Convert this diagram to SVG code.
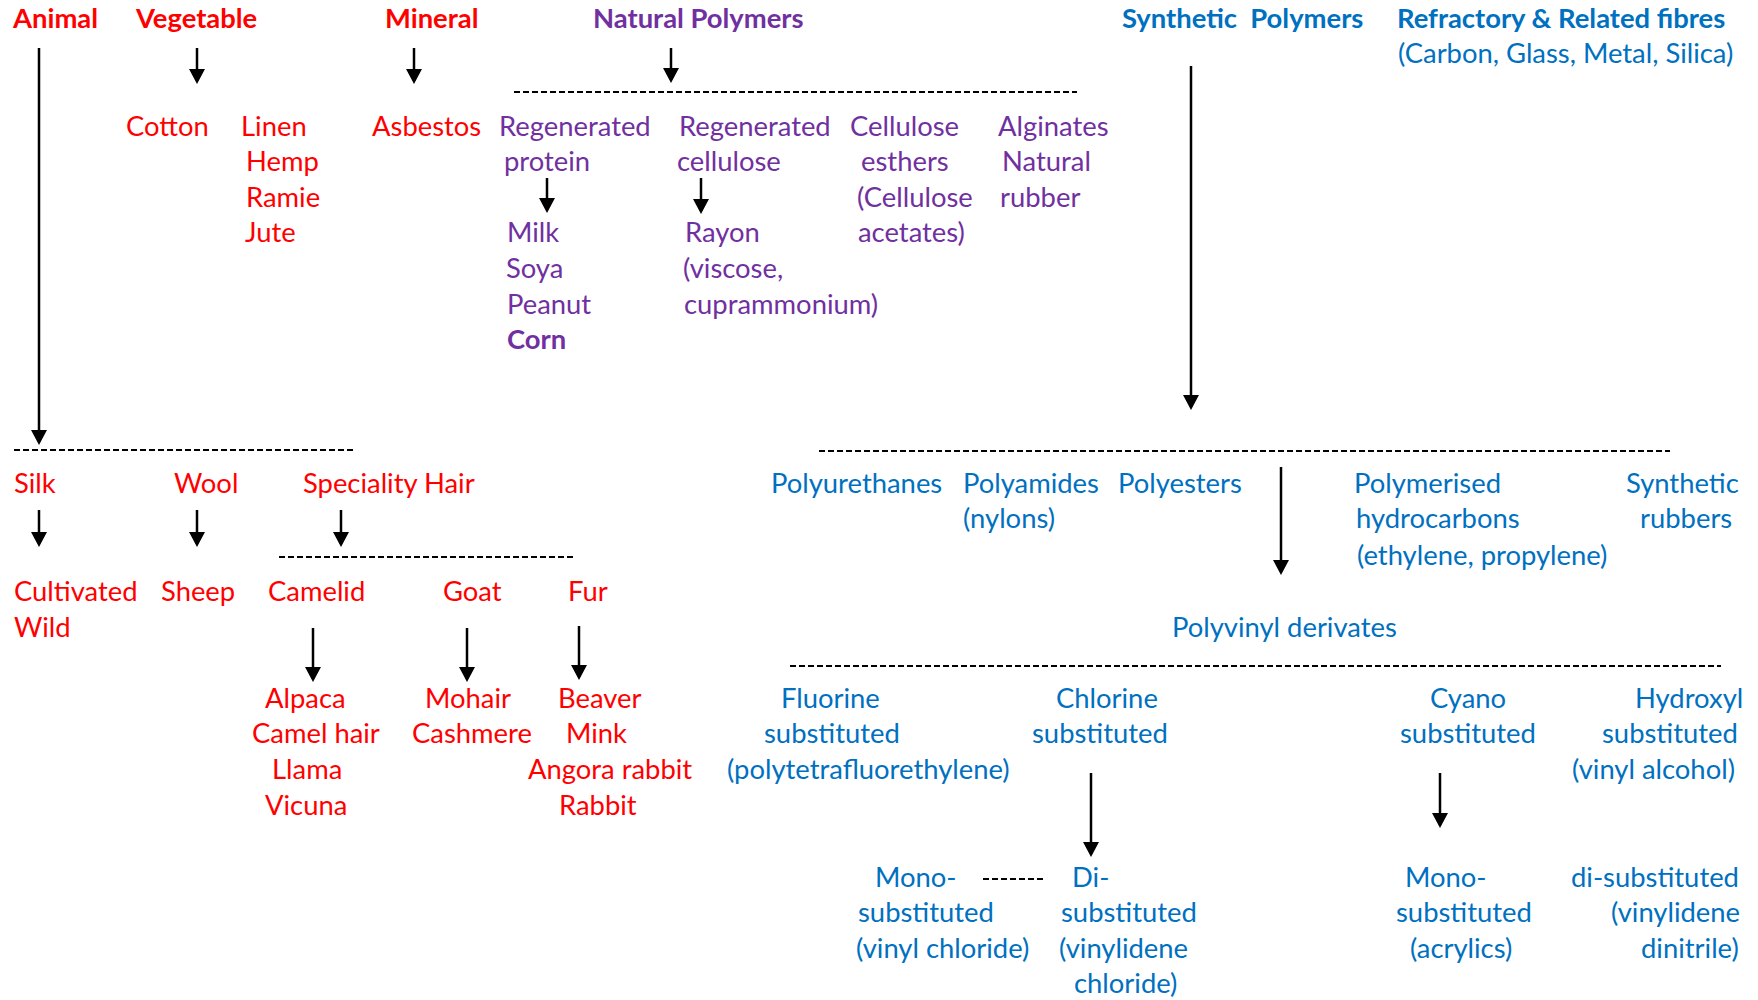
<svg xmlns="http://www.w3.org/2000/svg" width="1758" height="1000" viewBox="0 0 1758 1000">
<defs>
<style>
text{font-family:Lato,"Open Sans","Liberation Sans",sans-serif;font-size:27.4px}
.b{font-weight:bold}
.r{fill:#FF0000}
.p{fill:#7030A0}
.u{fill:#0070C0}
.ar{stroke:#000;stroke-width:2.5;fill:none;marker-end:url(#ah)}
.ds{stroke:#000;stroke-width:2;stroke-dasharray:6 3;fill:none}
</style>
<marker id="ah" markerUnits="userSpaceOnUse" markerWidth="16" markerHeight="16" refX="12" refY="8" orient="auto">
<path d="M0,0 L15,8 L0,16 z" fill="#000"/>
</marker>
</defs>
<rect width="1758" height="1000" fill="#fff"/>

<g id="animal"><text class="b r" x="13" y="28">Animal</text></g>
<g id="vegetable"><text class="b r" x="136" y="28">Vegetable</text></g>
<g id="mineral"><text class="b r" x="385" y="28">Mineral</text></g>
<g id="natural-polymers"><text class="b p" x="593" y="28">Natural Polymers</text></g>
<g id="synthetic-polymers"><text class="b u" x="1122" y="28" xml:space="preserve">Synthetic  Polymers</text></g>
<g id="refractory"><text class="b u" x="1397" y="28">Refractory &amp; Related fibres</text><text class="u" x="1398" y="63">(Carbon, Glass, Metal, Silica)</text></g>

<g id="cotton"><text class="r" x="126" y="136">Cotton</text></g>
<g id="linen"><text class="r" x="241" y="136">Linen</text><text class="r" x="246" y="171">Hemp</text><text class="r" x="246" y="207">Ramie</text><text class="r" x="245" y="242">Jute</text></g>
<g id="asbestos"><text class="r" x="372" y="136">Asbestos</text></g>

<g id="regenerated-protein"><text class="p" x="499" y="136">Regenerated</text><text class="p" x="504" y="171">protein</text></g>
<g id="protein-sources"><text class="p" x="507" y="242">Milk</text><text class="p" x="506" y="278">Soya</text><text class="p" x="507" y="314">Peanut</text><text class="p b" x="507" y="349">Corn</text></g>
<g id="regenerated-cellulose"><text class="p" x="679" y="136">Regenerated</text><text class="p" x="677" y="171">cellulose</text></g>
<g id="rayon"><text class="p" x="685" y="242">Rayon</text><text class="p" x="683" y="278">(viscose,</text><text class="p" x="684" y="314">cuprammonium)</text></g>
<g id="cellulose-esthers"><text class="p" x="850" y="136">Cellulose</text><text class="p" x="861" y="171">esthers</text><text class="p" x="857" y="207">(Cellulose</text><text class="p" x="858" y="242">acetates)</text></g>
<g id="alginates"><text class="p" x="998" y="136">Alginates</text><text class="p" x="1002" y="171">Natural</text><text class="p" x="1000" y="207">rubber</text></g>

<g id="silk"><text class="r" x="14" y="493">Silk</text></g>
<g id="wool"><text class="r" x="174" y="493">Wool</text></g>
<g id="speciality-hair"><text class="r" x="303" y="493">Speciality Hair</text></g>
<g id="silk-types"><text class="r" x="14" y="601">Cultivated</text><text class="r" x="14" y="637">Wild</text></g>
<g id="sheep"><text class="r" x="161" y="601">Sheep</text></g>
<g id="camelid"><text class="r" x="268" y="601">Camelid</text></g>
<g id="goat"><text class="r" x="443" y="601">Goat</text></g>
<g id="fur"><text class="r" x="568" y="601">Fur</text></g>
<g id="camelid-types"><text class="r" x="265" y="708">Alpaca</text><text class="r" x="252" y="743">Camel hair</text><text class="r" x="272" y="779">Llama</text><text class="r" x="265" y="815">Vicuna</text></g>
<g id="goat-types"><text class="r" x="425" y="708">Mohair</text><text class="r" x="412" y="743">Cashmere</text></g>
<g id="fur-types"><text class="r" x="558" y="708">Beaver</text><text class="r" x="566" y="743">Mink</text><text class="r" x="528" y="779">Angora rabbit</text><text class="r" x="559" y="815">Rabbit</text></g>

<g id="polyurethanes"><text class="u" x="771" y="493">Polyurethanes</text></g>
<g id="polyamides"><text class="u" x="963" y="493">Polyamides</text><text class="u" x="963" y="528">(nylons)</text></g>
<g id="polyesters"><text class="u" x="1118" y="493">Polyesters</text></g>
<g id="polymerised-hydrocarbons"><text class="u" x="1354" y="493">Polymerised</text><text class="u" x="1356" y="528">hydrocarbons</text><text class="u" x="1357" y="565">(ethylene, propylene)</text></g>
<g id="synthetic-rubbers"><text class="u" x="1626" y="493">Synthetic</text><text class="u" x="1640" y="528">rubbers</text></g>
<g id="polyvinyl"><text class="u" x="1172" y="637">Polyvinyl derivates</text></g>
<g id="fluorine"><text class="u" x="781" y="708">Fluorine</text><text class="u" x="764" y="743">substituted</text><text class="u" x="727" y="779">(polytetrafluorethylene)</text></g>
<g id="chlorine"><text class="u" x="1056" y="708">Chlorine</text><text class="u" x="1032" y="743">substituted</text></g>
<g id="cyano"><text class="u" x="1430" y="708">Cyano</text><text class="u" x="1400" y="743">substituted</text></g>
<g id="hydroxyl"><text class="u" x="1635" y="708">Hydroxyl</text><text class="u" x="1602" y="743">substituted</text><text class="u" x="1572" y="779">(vinyl alcohol)</text></g>
<g id="chlorine-mono"><text class="u" x="875" y="887">Mono-</text><text class="u" x="858" y="922">substituted</text><text class="u" x="856" y="958">(vinyl chloride)</text></g>
<g id="chlorine-di"><text class="u" x="1072" y="887">Di-</text><text class="u" x="1061" y="922">substituted</text><text class="u" x="1059" y="958">(vinylidene</text><text class="u" x="1074" y="993">chloride)</text></g>
<g id="cyano-mono"><text class="u" x="1405" y="887">Mono-</text><text class="u" x="1396" y="922">substituted</text><text class="u" x="1410" y="958">(acrylics)</text></g>
<g id="cyano-di"><text class="u" x="1571" y="887">di-substituted</text><text class="u" x="1611" y="922">(vinylidene</text><text class="u" x="1641" y="958">dinitrile)</text></g>

<g id="connectors">
<line class="ar" x1="39" y1="48" x2="39" y2="442"/>
<line class="ar" x1="197" y1="48" x2="197" y2="81"/>
<line class="ar" x1="414" y1="48" x2="414" y2="81"/>
<line class="ar" x1="671" y1="48" x2="671" y2="80"/>
<line class="ds" x1="514" y1="92" x2="1077" y2="92"/>
<line class="ar" x1="547" y1="178" x2="547" y2="210"/>
<line class="ar" x1="701" y1="178" x2="701" y2="211"/>
<line class="ar" x1="1191" y1="66" x2="1191" y2="407"/>
<line class="ds" x1="14" y1="450" x2="353" y2="450"/>
<line class="ar" x1="39" y1="510" x2="39" y2="544"/>
<line class="ar" x1="197" y1="510" x2="197" y2="544"/>
<line class="ar" x1="341" y1="510" x2="341" y2="544"/>
<line class="ds" x1="279" y1="557" x2="573" y2="557"/>
<line class="ar" x1="313" y1="628" x2="313" y2="679"/>
<line class="ar" x1="467" y1="628" x2="467" y2="679"/>
<line class="ar" x1="579" y1="626" x2="579" y2="677"/>
<line class="ds" x1="819" y1="451" x2="1670" y2="451"/>
<line class="ar" x1="1281" y1="467" x2="1281" y2="572"/>
<line class="ds" x1="790" y1="666" x2="1721" y2="666"/>
<line class="ar" x1="1091" y1="773" x2="1091" y2="854"/>
<line class="ar" x1="1440" y1="773" x2="1440" y2="825"/>
<line class="ds" x1="983" y1="879" x2="1044" y2="879"/>
</g>
</svg>
